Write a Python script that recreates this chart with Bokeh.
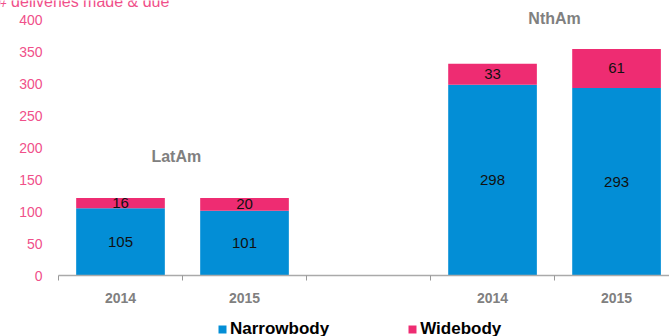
from bokeh.plotting import figure
from bokeh.models import (ColumnDataSource, Range1d, FixedTicker, Label, Legend, LegendItem)
from bokeh.core.properties import value
from bokeh.embed import file_html
from bokeh.resources import INLINE

# Data
groups = ["LatAm", "LatAm", "NthAm", "NthAm"]
years = ["2014", "2015", "2014", "2015"]
narrowbody = [105, 101, 298, 293]
widebody = [16, 20, 33, 61]
positions = [0.5, 1.5, 3.5, 4.5]
group_names = ["LatAm", "NthAm"]
group_label_x = [0.95, 4.0]
group_label_y = [186, 402]
y_ticks = [0, 50, 100, 150, 200, 250, 300, 350, 400]
y_title = "# deliveries made & due"

BLUE = "#038ED6"
PINK = "#EE2C72"
LABEL_PINK = "#F0508A"
GRAY = "#808080"
FONT = "Liberation Sans"

wb_top = [n + w for n, w in zip(narrowbody, widebody)]
src = ColumnDataSource(dict(
    x=positions, nb_top=narrowbody, wb_top=wb_top,
    nb_mid=[n / 2 for n in narrowbody],
    wb_mid=[n + w / 2 for n, w in zip(narrowbody, widebody)],
    nb_txt=[str(v) for v in narrowbody], wb_txt=[str(v) for v in widebody],
    zero=[0] * 4,
))

# frame covers the whole canvas; 124 px per category, 0.64 px per unit
p = figure(width=669, height=336, output_backend="svg", toolbar_location=None,
           x_range=Range1d(-0.4677, 4.927), y_range=Range1d(-95.3, 429.7),
           min_border_left=0, min_border_right=0, min_border_top=0, min_border_bottom=0)
p.outline_line_color = None
p.xgrid.visible = False
p.ygrid.visible = False
p.background_fill_color = "white"
p.border_fill_color = "white"

nb_r = p.vbar(x="x", bottom="zero", top="nb_top", width=0.715, fill_color=BLUE, line_color=None, source=src)
wb_r = p.vbar(x="x", bottom="nb_top", top="wb_top", width=0.715, fill_color=PINK, line_color=None, source=src)

p.text(x="x", y="nb_mid", text="nb_txt", source=src, text_align="center", text_baseline="middle",
       text_font=value(FONT), text_font_size="15px", text_color="#111111")
p.text(x="x", y="wb_mid", text="wb_txt", source=src, text_align="center", text_baseline="middle",
       text_font=value(FONT), text_font_size="15px", text_color="#111111")

gsrc = ColumnDataSource(dict(x=group_label_x, y=group_label_y, t=group_names))
p.text(x="x", y="y", text="t", source=gsrc, text_align="center", text_baseline="middle",
       text_font=value(FONT), text_font_size="16px", text_font_style="bold", text_color=GRAY)

# X axis (drawn at y = 0 inside the frame)
xa = p.xaxis[0]
xa.fixed_location = 0
xa.bounds = (0, 4.927)
xa.ticker = FixedTicker(ticks=positions, minor_ticks=[0, 1, 2, 3, 4, 5])
xa.major_label_overrides = {pos: y for pos, y in zip(positions, years)}
xa.major_tick_out = 0
xa.major_tick_in = 0
xa.minor_tick_out = 5
xa.minor_tick_in = 0
xa.minor_tick_line_color = "#999999"
xa.axis_line_color = "#aaaaaa"
xa.axis_line_width = 1.5
xa.major_label_text_font = FONT
xa.major_label_text_font_style = "bold"
xa.major_label_text_font_size = "14px"
xa.major_label_text_color = GRAY
xa.major_label_standoff = 12

# Y axis (drawn at x = 0 inside the frame)
ya = p.yaxis[0]
ya.fixed_location = 0
ya.ticker = FixedTicker(ticks=y_ticks)
ya.axis_line_color = None
ya.major_tick_line_color = None
ya.minor_tick_line_color = None
ya.major_label_text_font = FONT
ya.major_label_text_font_size = "14px"
ya.major_label_text_color = LABEL_PINK
ya.major_label_standoff = 10

p.add_layout(Label(x=-0.49, y=428, text=y_title, text_font=FONT, text_font_size="16px",
                   text_color=LABEL_PINK, text_baseline="alphabetic"))

legend = Legend(items=[LegendItem(label="Narrowbody", renderers=[nb_r]),
                       LegendItem(label="Widebody", renderers=[wb_r])],
                orientation="horizontal", location=(217, -3),
                label_text_font=FONT, label_text_font_style="bold", label_text_font_size="17px",
                label_text_color="#000000", glyph_width=10, glyph_height=10,
                label_standoff=3, spacing=78, padding=0, margin=0,
                border_line_color=None, background_fill_alpha=0)
p.add_layout(legend, "center")

open("out.html", "w").write(file_html(p, INLINE))
